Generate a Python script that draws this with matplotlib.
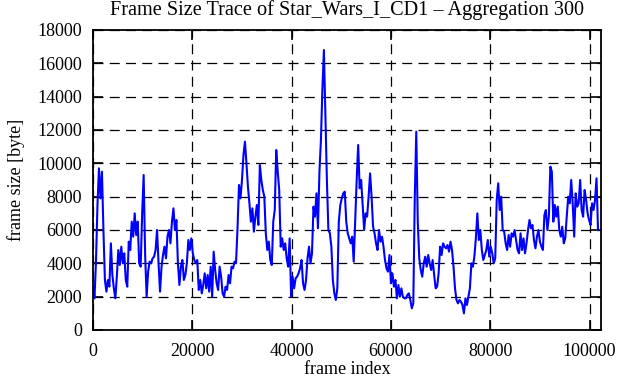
import numpy as np
import matplotlib
matplotlib.use("Agg")
import matplotlib.pyplot as plt

# aggregated frame sizes (one value per 300 frames)
frame_size = [
    2600, 1900, 4100, 7500, 9700, 7900, 9500, 6000, 3000, 2300,
    3000, 2600, 5200, 3300, 2500, 1900, 3200, 4800, 3900, 5000,
    4000, 4600, 3000, 2600, 5300, 4800, 6500, 5600, 7000, 5700,
    6500, 4000, 3800, 7000, 9300, 4500, 2000, 3500, 4100, 4000,
    4300, 4400, 4800, 6000, 4000, 2300, 3800, 4500, 5000, 4300,
    5600, 6000, 5200, 6500, 7300, 6000, 6600, 4000,
    2700, 3800, 4200, 3000, 3300, 4000, 5400, 4800, 5500, 4600,
    4200, 4000, 4200, 2400, 3000, 2200, 2700, 3400, 2500, 3300,
    2300, 3800, 2000, 4700, 3600, 2800, 2400, 3800, 3200, 2200,
    2000, 2600, 2400, 3300, 2800, 3800, 3700, 4100, 4000, 6100,
    8700, 7900, 9000, 10500, 11300, 10000, 8600, 7600, 6500, 7300,
    5900, 6800, 7500, 6300, 9900, 9000, 8400,
    8000, 5800, 4800, 5300, 4200, 3900, 6500, 7200, 10800, 9500,
    8400, 5000, 5500, 4800, 5200, 4300, 3800, 5500, 2000, 3200,
    2500, 3100, 3200, 3400, 3700, 4200, 2800, 2400, 3000, 4300,
    5000, 4000, 4600, 7400, 6800, 8200, 6100, 9500, 11400, 14500,
    16800, 13000, 9000, 6000, 5800, 5000, 3000, 2200, 1800, 2500,
    6500, 7500, 7900, 8200, 8300, 6500, 5800,
    5500, 5200, 5600, 4100, 6500, 9000, 11100, 8500, 9000, 7500,
    6000, 7000, 6800, 8000, 9400, 8000, 6200, 5800, 5200, 4800,
    6000, 5300, 5600, 5000, 4200, 3700, 3500, 4500, 2800, 3400,
    2600, 3000, 1900, 2700, 2000, 2500, 2000, 1900, 1900, 2100,
    2200, 1800, 1300, 1600, 8000, 11900, 6500, 4300, 3600, 3200,
    4000, 4400, 3800, 4500, 4000, 3600, 4200, 3300,
    2500, 2600, 3400, 5000, 4500, 5200, 5000, 4900, 5100, 4700,
    5300, 4800, 3800, 2500, 1800, 1600, 1800, 1700, 1500, 1000,
    1900, 1500, 2000, 2500, 4000, 3800, 4400, 5500, 7000, 5400,
    6000, 4800, 4200, 4500, 4800, 5400, 4400, 5000, 4600, 4000,
    4300, 7800, 8800, 7200, 8000, 6000, 5900, 5200, 4800, 5700,
    5000, 5800, 5600, 6000, 5400, 4800,
    4600, 5800, 4800, 5500, 4600, 5200, 6000, 6600, 6100, 6300,
    5400, 4900, 5600, 6000, 5300, 5000, 4800, 6900, 7200, 6000,
    6800, 9800, 9500, 6500, 7500, 6800, 7400, 6000, 5600, 6200,
    5200, 5500, 6800, 8000, 7600, 9000, 7600, 5600, 8200, 7400,
    7600, 9000, 7200, 6800, 8400, 7800, 7000, 6600, 6300, 7600,
    7200, 7800, 9100, 6000,
]
aggregation = 300
frame_index = np.arange(len(frame_size)) * aggregation

x_ticks = [0, 20000, 40000, 60000, 80000, 100000]
y_ticks = list(range(0, 18001, 2000))

plt.rcParams['font.family'] = ['Liberation Serif', 'DejaVu Serif']
plt.rcParams['font.size'] = 13

fig = plt.figure(figsize=(6.21, 3.80), dpi=100)
ax = fig.add_axes([93 / 621, 50 / 380, 508 / 621, 300 / 380])

ax.plot(frame_index, frame_size, color='#0000ff', lw=1.5)

ax.set_xlim(0, 102300)
ax.set_ylim(0, 18000)
ax.set_xticks(x_ticks)
ax.set_yticks(y_ticks)
ax.grid(True, color='black', linestyle=(0, (8, 5)), linewidth=0.9)
ax.tick_params(direction='in', length=7, width=1.2, top=True, right=True)
ax.tick_params(axis='x', pad=9)
ax.tick_params(axis='y', pad=8)
for s in ax.spines.values():
    s.set_linewidth(1.3)

ax.set_title('Frame Size Trace of Star_Wars_I_CD1 \u2013 Aggregation 300',
             fontsize=14.6, pad=11)
ax.set_xlabel('frame index', labelpad=1)
ax.set_ylabel('frame size [byte]', labelpad=9)

fig.savefig('out.png', dpi=100)
